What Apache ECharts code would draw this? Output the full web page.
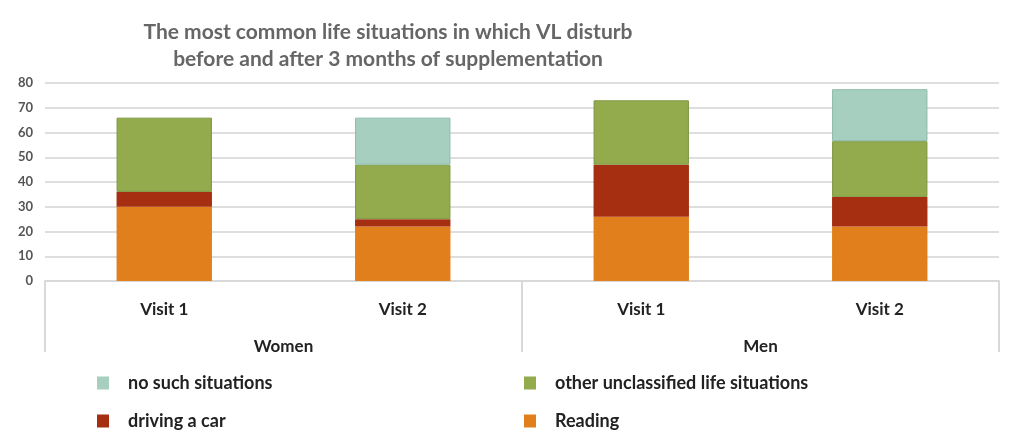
<!DOCTYPE html>
<html>
<head>
<meta charset="utf-8">
<script src="https://cdn.jsdelivr.net/npm/echarts@6/dist/echarts.min.js"></script>
<style>
  html, body { margin: 0; padding: 0; background: #fff; }
  #chart { width: 1024px; height: 439px; }
</style>
</head>
<body>
<div id="chart"></div>
<script>
var visits = ['Visit 1', 'Visit 2', 'Visit 1', 'Visit 2'];
var groups = ['Women', 'Men'];
var yTicks = [0, 10, 20, 30, 40, 50, 60, 70, 80];

var reading = [30, 22, 26, 22];
var driving = [6, 3, 21, 12];
var other = [30, 22, 26, 22.5];
var noSuch = [0, 19, 0, 21];

var colors = {
	reading: '#e07f1b',
	driving: '#a52f10',
	other: '#93ab4c',
	noSuch: '#a7cfc0'
};

var font = 'Lato, "Open Sans", sans-serif';
var myChart = echarts.init(document.getElementById('chart'));

// zero-height segments are left out so their outline is not drawn
function barSeries(name, data, color, border) {
	return {
		name: name,
		type: 'bar',
		stack: 'total',
		barWidth: '40%',
		data: data.map(function (v) { return v === 0 ? '-' : v; }),
		itemStyle: {
			color: color,
			borderColor: border || color,
			borderWidth: border ? 1 : 0
		}
	};
}

var legendText = {fontFamily: font, fontSize: 18, fontWeight: 'bold', color: '#222', padding: [4, 0, 0, 14]};

var option = {
	animation: false,
	title: {
		text: 'The most common life situations in which VL disturb\nbefore and after 3 months of supplementation',
		left: 383,
		textAlign: 'center',
		top: 14,
		textStyle: {
			fontFamily: font,
			fontSize: 21,
			fontWeight: 'bold',
			color: '#666666',
			lineHeight: 27
		}
	},
	grid: {left: 45, right: 25, top: 83, bottom: 158},
	legend: [
		{
			left: 92, top: 369, orient: 'vertical', itemGap: 20,
			itemWidth: 12, itemHeight: 13, icon: 'rect',
			itemStyle: {borderWidth: 0},
			data: ['no such situations', 'driving a car'],
			textStyle: legendText
		},
		{
			left: 519, top: 369, orient: 'vertical', itemGap: 20,
			itemWidth: 12, itemHeight: 13, icon: 'rect',
			itemStyle: {borderWidth: 0},
			data: ['other unclassified life situations', 'Reading'],
			textStyle: legendText
		}
	],
	xAxis: [
		{
			type: 'category',
			data: visits,
			axisLine: {lineStyle: {color: '#d9d9d9', width: 2}},
			axisTick: {show: false},
			axisLabel: {margin: 20, fontFamily: font, fontSize: 17, fontWeight: 'bold', color: '#222'}
		},
		{
			type: 'category',
			data: groups,
			position: 'bottom',
			axisLine: {show: false},
			axisTick: {show: true, length: 71, lineStyle: {color: '#d9d9d9', width: 2}},
			axisLabel: {margin: 57, fontFamily: font, fontSize: 17, fontWeight: 'bold', color: '#222'}
		}
	],
	yAxis: {
		type: 'value',
		min: yTicks[0],
		max: yTicks[yTicks.length - 1],
		interval: 10,
		axisLine: {show: false},
		axisTick: {show: false},
		axisLabel: {margin: 12, fontFamily: font, fontSize: 13, fontWeight: 'bold', color: '#555'},
		splitLine: {lineStyle: {color: '#dedede', width: 2}}
	},
	series: [
		barSeries('Reading', reading, colors.reading),
		barSeries('driving a car', driving, colors.driving),
		barSeries('other unclassified life situations', other, colors.other, '#7f9a44'),
		barSeries('no such situations', noSuch, colors.noSuch, '#8dbcaa')
	]
};

myChart.setOption(option);
</script>
</body>
</html>
